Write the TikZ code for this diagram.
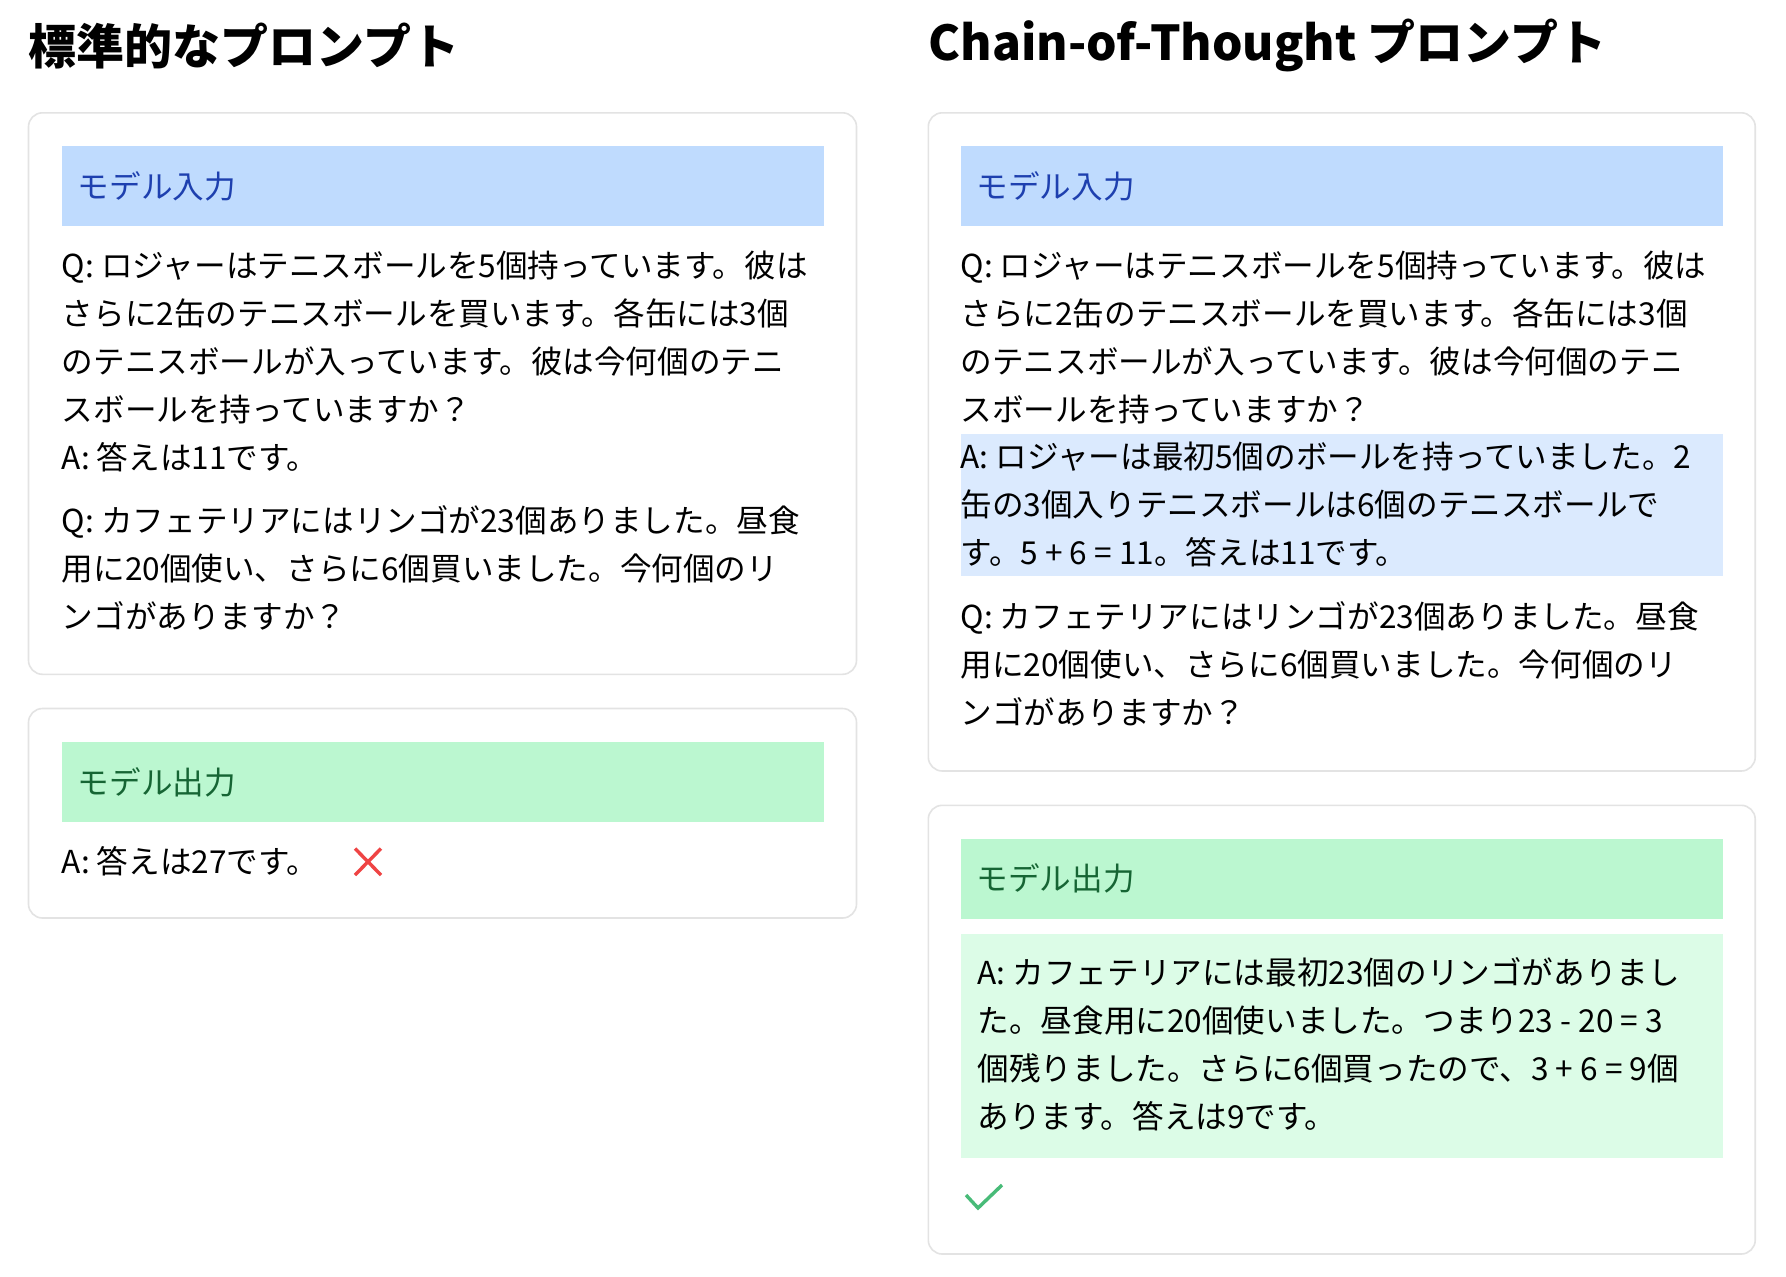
\documentclass[tikz,border=0pt]{standalone}
\usepackage{fontspec}
\setmainfont{Noto Sans CJK JP}
\usepackage{xcolor}
\usepackage{tikz}

\definecolor{cardline}{HTML}{E3E3E3}
\definecolor{bandblue}{HTML}{BFDBFE}
\definecolor{inkblue}{HTML}{1E40AF}
\definecolor{hiliteblue}{HTML}{DBEAFE}
\definecolor{bandgreen}{HTML}{BBF7D0}
\definecolor{inkgreen}{HTML}{166534}
\definecolor{hilitegreen}{HTML}{DCFCE7}
\definecolor{crossred}{HTML}{EF4444}
\definecolor{tickgreen}{HTML}{48BB78}

\tikzset{
  card/.style={draw=cardline, line width=0.8pt, rounded corners=7pt, fill=white},
  band/.style={anchor=north west, inner sep=0pt, minimum width=381pt, minimum height=40pt},
  inband/.style={band, fill=bandblue},
  outband/.style={band, fill=bandgreen},
  bandlabel/.style={anchor=west, inner sep=0pt, font=\fontsize{15.8}{24}\selectfont},
  body/.style={anchor=north west, inner sep=0pt, align=left, font=\fontsize{15.8}{24}\selectfont},
  heading/.style={anchor=west, inner sep=0pt, font=\bfseries\fontsize{24}{28}\selectfont},
}

\begin{document}
\begin{tikzpicture}[x=0.5pt, y=-0.5pt]

  \useasboundingbox[fill=white] (0,0) rectangle (1786,1276);

  % headings
  \node[heading] (stdtitle) at (28.5,45.6) {標準的なプロンプト};
  \node[heading] (cottitle) at (928,45.6)  {Chain-of-Thought プロンプト};

  % standard prompt: input card
  \draw[card] (28.5,112.8) rectangle (856.5,674.3);
  \node[inband] (stdin) at (61.5,145.8) {};
  \node[bandlabel, text=inkblue] (stdinlab) at ([xshift=8pt]stdin.west) {モデル入力};
  \node[body] (stdq1) at (61.5,250.5) {%
    Q: ロジャーはテニスボールを5個持っています。彼は\\
    さらに2缶のテニスボールを買います。各缶には3個\\
    のテニスボールが入っています。彼は今何個のテニ\\
    スボールを持っていますか？\\
    A: 答えは11です。};
  \node[body] (stdq2) at (61.5,505.5) {%
    Q: カフェテリアにはリンゴが23個ありました。昼食\\
    用に20個使い、さらに6個買いました。今何個のリ\\
    ンゴがありますか？};

  % standard prompt: output card
  \draw[card] (28.5,708.5) rectangle (856.5,918);
  \node[outband] (stdout) at (61.5,741.5) {};
  \node[bandlabel, text=inkgreen] (stdoutlab) at ([xshift=8pt]stdout.west) {モデル出力};
  \node[bandlabel] (stdans) at (61.5,861) {A: 答えは27です。};
  \draw[crossred, line width=1.7pt] (355,848.5) -- (381,875) (381,848.5) -- (355,875);

  % chain-of-thought: input card
  \draw[card] (928.3,112.8) rectangle (1755.2,771);
  \node[inband] (cotin) at (960.2,145.8) {};
  \node[bandlabel, text=inkblue] (cotinlab) at ([xshift=8pt]cotin.west) {モデル入力};
  \node[body] (cotq1) at (960.2,250.5) {%
    Q: ロジャーはテニスボールを5個持っています。彼は\\
    さらに2缶のテニスボールを買います。各缶には3個\\
    のテニスボールが入っています。彼は今何個のテニ\\
    スボールを持っていますか？};
  \node[band, fill=hiliteblue, minimum height=71pt] (cotshot) at (960.2,434) {};
  \node[body] (cota1) at (960.2,441.5) {%
    A: ロジャーは最初5個のボールを持っていました。2\\
    缶の3個入りテニスボールは6個のテニスボールで\\
    す。5 + 6 = 11。答えは11です。};
  \node[body] (cotq2) at (960.2,601) {%
    Q: カフェテリアにはリンゴが23個ありました。昼食\\
    用に20個使い、さらに6個買いました。今何個のリ\\
    ンゴがありますか？};

  % chain-of-thought: output card
  \draw[card] (928.3,805.3) rectangle (1755.2,1254);
  \node[outband] (cotout) at (960.2,838.3) {};
  \node[bandlabel, text=inkgreen] (cotoutlab) at ([xshift=8pt]cotout.west) {モデル出力};
  \node[band, fill=hilitegreen, minimum height=111.6pt] (cotreason) at (960.2,934) {};
  \node[body] (cotans) at (977.3,957.5) {%
    A: カフェテリアには最初23個のリンゴがありまし\\
    た。昼食用に20個使いました。つまり23 - 20 = 3\\
    個残りました。さらに6個買ったので、3 + 6 = 9個\\
    あります。答えは9です。};
  \draw[tickgreen, line width=1.7pt] (966,1195) -- (978,1208) -- (1002,1185);

\end{tikzpicture}
\end{document}
